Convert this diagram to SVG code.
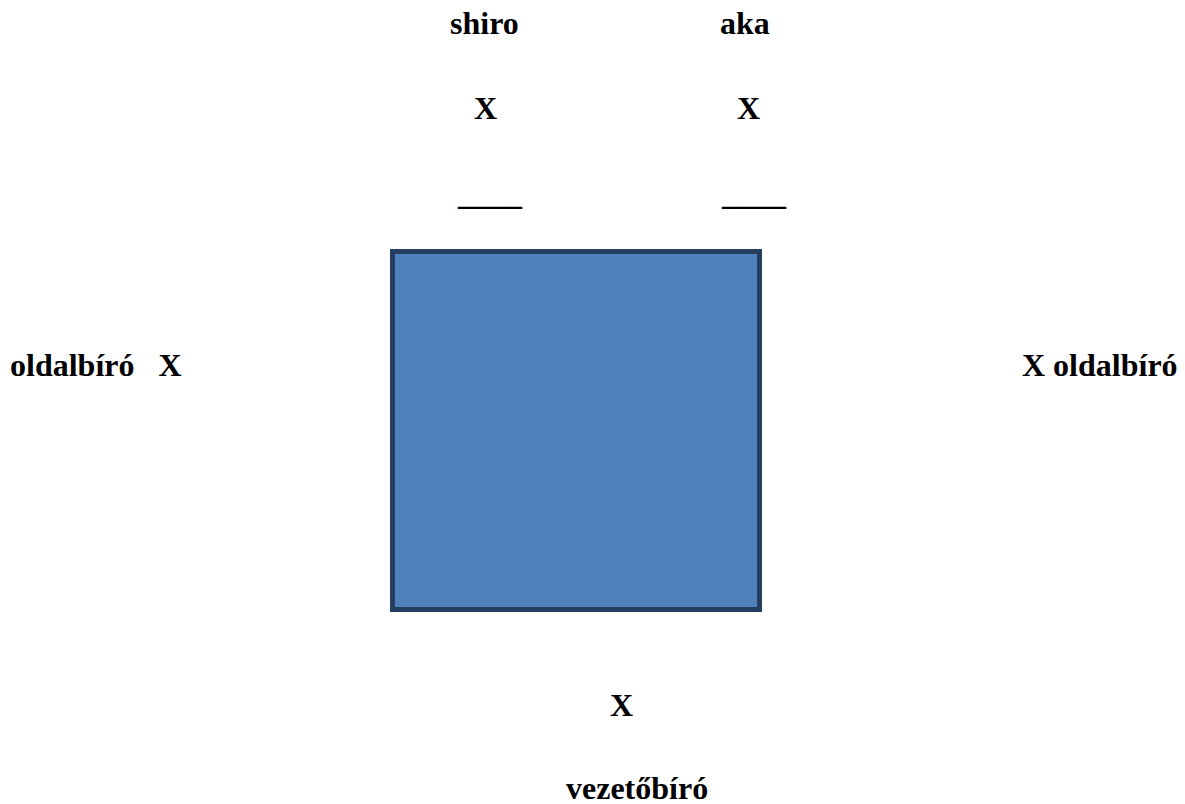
<svg xmlns="http://www.w3.org/2000/svg" width="1185" height="804" viewBox="0 0 1185 804">
<style>
.t{font-family:"Liberation Serif","Times New Roman",serif;font-weight:bold;font-size:32px;fill:#000;white-space:pre}
.box{fill:#4F81BD;stroke:#263F61;stroke-width:5}
</style>
<rect width="1185" height="804" fill="#fff"/>
<g id="mat"><rect class="box" x="392.5" y="251.5" width="367" height="358"/></g>
<g id="shiro">
<text class="t" x="450" y="34">shiro</text>
<text class="t" x="474" y="119">X</text>
<text class="t" x="458" y="205">____</text>
</g>
<g id="aka">
<text class="t" x="720" y="34">aka</text>
<text class="t" x="737" y="119">X</text>
<text class="t" x="722" y="205">____</text>
</g>
<g id="left-judge"><text class="t" x="10" y="376" xml:space="preserve">oldalbíró   X</text></g>
<g id="right-judge"><text class="t" x="1022" y="376">X oldalbíró</text></g>
<g id="referee">
<text class="t" x="610" y="716">X</text>
<text class="t" x="566" y="799">vezetőbíró</text>
</g>
<g id="connectors"></g>
</svg>
